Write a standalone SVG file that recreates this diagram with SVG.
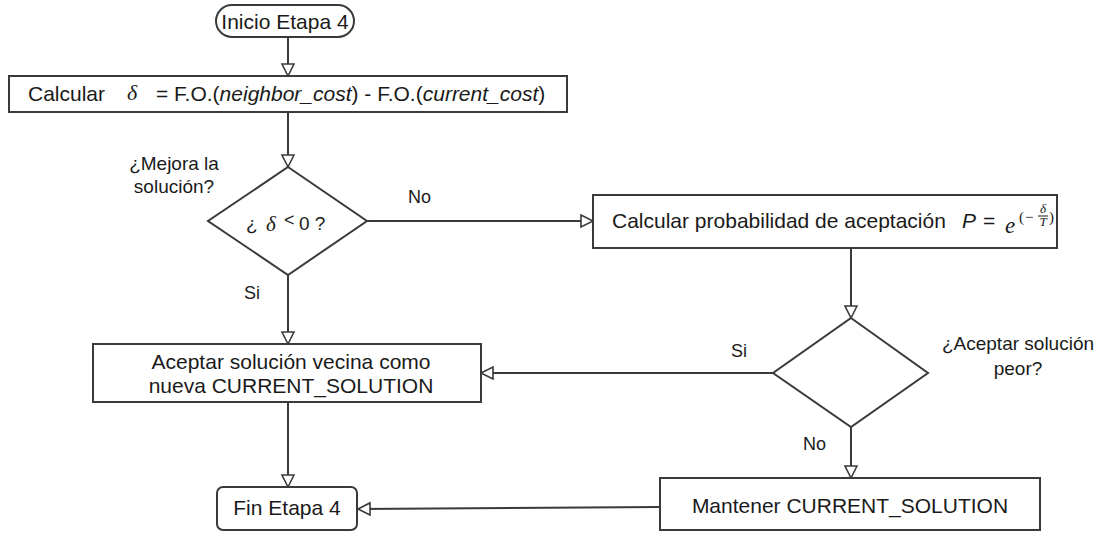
<svg xmlns="http://www.w3.org/2000/svg" width="1101" height="533" viewBox="0 0 1101 533">
<style>
.box{fill:#fff;stroke:#3a3a3a;stroke-width:2}
.ln{fill:none;stroke:#3a3a3a;stroke-width:2}
.t{font-family:"Liberation Sans",Arial,sans-serif;font-size:21px;fill:#1a1a1a}
.l{font-family:"Liberation Sans",Arial,sans-serif;font-size:18px;fill:#1a1a1a}
.q{font-family:"Liberation Sans",Arial,sans-serif;font-size:19px;fill:#1a1a1a}
.c{text-anchor:middle}
.m{font-family:"Liberation Serif","DejaVu Serif",serif;font-style:italic;fill:#1a1a1a}
.s{font-family:"Liberation Serif","DejaVu Serif",serif;font-size:15px;fill:#1a1a1a}
</style>
<defs>
<marker id="ah" markerUnits="userSpaceOnUse" markerWidth="16" markerHeight="16" refX="13" refY="7" orient="auto">
<path d="M1,1 L13,7 L1,13 z" fill="#fff" stroke="#3a3a3a" stroke-width="1.6"/>
</marker>
</defs>
<rect width="1101" height="533" fill="#fff"/>
<g id="connectors">
<line class="ln" x1="288" y1="37" x2="288" y2="76" marker-end="url(#ah)"/>
<line class="ln" x1="288" y1="112" x2="288" y2="167" marker-end="url(#ah)"/>
<line class="ln" x1="367" y1="221" x2="593" y2="221" marker-end="url(#ah)"/>
<line class="ln" x1="288" y1="275" x2="288" y2="344" marker-end="url(#ah)"/>
<line class="ln" x1="851" y1="248" x2="851" y2="318" marker-end="url(#ah)"/>
<line class="ln" x1="773" y1="373" x2="481" y2="373" marker-end="url(#ah)"/>
<line class="ln" x1="288" y1="402" x2="288" y2="487" marker-end="url(#ah)"/>
<line class="ln" x1="851" y1="427" x2="851" y2="478" marker-end="url(#ah)"/>
<line class="ln" x1="660" y1="507" x2="358" y2="509" marker-end="url(#ah)"/>
<text class="l" x="408" y="203">No</text>
<text class="l" x="244" y="299">Si</text>
<text class="l" x="731" y="357">Si</text>
<text class="l" x="803" y="450">No</text>
</g>
<g id="inicio">
<rect class="box" x="216" y="5" width="138" height="32" rx="16"/>
<text class="t c" x="285" y="29">Inicio Etapa 4</text>
</g>
<g id="calcular-delta">
<rect class="box" x="9" y="76" width="558" height="36"/>
<text class="t" x="28" y="101">Calcular</text>
<text class="m" x="127" y="100" font-size="22">δ</text>
<text class="t" x="156" y="101">= F.O.(<tspan font-style="italic">neighbor_cost</tspan>) - F.O.(<tspan font-style="italic">current_cost</tspan>)</text>
</g>
<g id="mejora">
<polygon class="box" points="288,167 367,221 288,275 208,221"/>
<text class="q" x="246" y="230">¿</text>
<text class="m" x="266" y="231" font-size="21">δ</text>
<text class="l" x="284" y="226" font-size="14">&lt;</text>
<text class="q" x="299" y="230">0 ?</text>
<text class="q c" x="174" y="170">¿Mejora la</text>
<text class="q c" x="174" y="193">solución?</text>
</g>
<g id="calcular-prob">
<rect class="box" x="593" y="195" width="464" height="53"/>
<text class="t" x="612" y="228">Calcular probabilidad de aceptación</text>
<text class="t" x="962" y="228" font-style="italic">P</text>
<text class="t" x="983" y="228">=</text>
<text class="m" x="1005" y="233" font-size="23">e</text>
<text class="s" x="1019" y="222">(</text>
<text class="s" x="1025" y="222">−</text>
<text class="m" x="1043" y="213" font-size="13" text-anchor="middle">δ</text>
<line x1="1038" y1="216" x2="1048" y2="216" stroke="#1a1a1a" stroke-width="1"/>
<text class="m" x="1043" y="226" font-size="13" text-anchor="middle">T</text>
<text class="s" x="1049" y="222">)</text>
</g>
<g id="aceptar-peor">
<polygon class="box" points="851,318 928,373 851,427 773,373"/>
<text class="q c" x="1018" y="350">¿Aceptar solución</text>
<text class="q c" x="1018" y="375">peor?</text>
</g>
<g id="aceptar-vecina">
<rect class="box" x="93" y="344" width="388" height="58"/>
<text class="t c" x="291" y="369">Aceptar solución vecina como</text>
<text class="t c" x="291" y="393">nueva CURRENT_SOLUTION</text>
</g>
<g id="mantener">
<rect class="box" x="660" y="478" width="380" height="52"/>
<text class="t c" x="850" y="513">Mantener CURRENT_SOLUTION</text>
</g>
<g id="fin">
<rect class="box" x="217" y="487" width="140" height="43" rx="6"/>
<text class="t c" x="287" y="515">Fin Etapa 4</text>
</g>
</svg>
